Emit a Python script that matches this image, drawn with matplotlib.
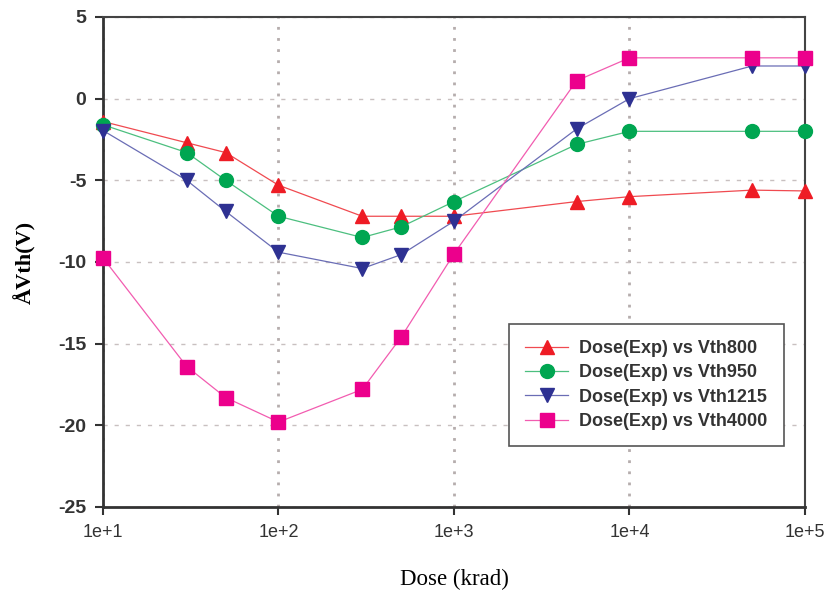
import matplotlib
matplotlib.use("Agg")
import matplotlib.pyplot as plt

dose = [10, 30, 50, 100, 300, 500, 1000, 5000, 10000, 50000, 100000]
vth800 = [-1.4, -2.7, -3.3, -5.3, -7.2, -7.2, -7.2, -6.3, -6.0, -5.6, -5.65]
vth950 = [-1.6, -3.3, -5.0, -7.2, -8.5, -7.85, -6.3, -2.8, -2.0, -2.0, -2.0]
vth1215 = [-1.95, -5.0, -6.9, -9.4, -10.4, -9.55, -7.5, -1.85, 0.0, 2.0, 2.0]
vth4000 = [-9.75, -16.4, -18.3, -19.8, -17.8, -14.6, -9.5, 1.1, 2.5, 2.5, 2.5]

xticks = [10, 100, 1000, 10000, 100000]
xtick_labels = ["1e+1", "1e+2", "1e+3", "1e+4", "1e+5"]
yticks = [-25, -20, -15, -10, -5, 0, 5]

series = [
    ("Dose(Exp) vs Vth800", vth800, "^", "#EE1C25", "#F04A50"),
    ("Dose(Exp) vs Vth950", vth950, "o", "#00A651", "#4CBF7F"),
    ("Dose(Exp) vs Vth1215", vth1215, "v", "#2E3192", "#6A6DB5"),
    ("Dose(Exp) vs Vth4000", vth4000, "s", "#EC008C", "#F25CB0"),
]

fig = plt.figure(figsize=(8.28, 5.92), dpi=100)
ax = fig.add_axes([0.1244, 0.1436, 0.8478, 0.8277])

for label, vals, mk, mcol, lcol in series:
    ax.plot(dose, vals, color=lcol, lw=0.9, marker=mk, markersize=10,
            markerfacecolor=mcol, markeredgecolor=mcol, label=label,
            clip_on=False, zorder=3)

ax.set_xscale("log")
ax.set_xlim(10, 100000)
ax.set_ylim(-25, 5)
ax.minorticks_off()
ax.set_xticks(xticks)
ax.set_xticklabels(xtick_labels, fontfamily="Liberation Sans", fontsize=13, color="#333333")
ax.set_yticks(yticks)
ax.set_yticklabels([str(v) for v in yticks], fontfamily="Liberation Sans",
                   fontsize=14, fontweight="bold", color="#333333")

ax.xaxis.grid(True, color="#B5ADAD", lw=2, linestyle=(0, (1, 3)))
ax.yaxis.grid(True, color="#C8C0C0", lw=1, linestyle=(0, (3, 5)))
ax.set_axisbelow(True)

for side in ["left", "bottom"]:
    ax.spines[side].set_linewidth(2)
    ax.spines[side].set_color("#333333")
for side in ["top", "right"]:
    ax.spines[side].set_linewidth(1.5)
    ax.spines[side].set_color("#444444")
ax.tick_params(axis="both", direction="out", length=6, width=1.5, color="#333333", pad=6)

ax.set_xlabel("Dose (krad)", fontfamily="Liberation Serif", fontsize=16.5, labelpad=20)
ax.set_ylabel("ÅVth(V)", fontfamily="Liberation Serif", fontsize=16, fontweight="bold", labelpad=16)

leg = ax.legend(loc="upper left", bbox_to_anchor=(0.578, 0.3735), borderaxespad=0,
                frameon=True, fancybox=False, edgecolor="#555555", framealpha=1,
                prop={"family": "Liberation Sans", "weight": "bold", "size": 13},
                handlelength=2.4, labelspacing=0.4, borderpad=0.9, handletextpad=0.6)
leg.get_frame().set_linewidth(1.2)
for t in leg.get_texts():
    t.set_color("#333333")

fig.savefig("out.png", dpi=100)
